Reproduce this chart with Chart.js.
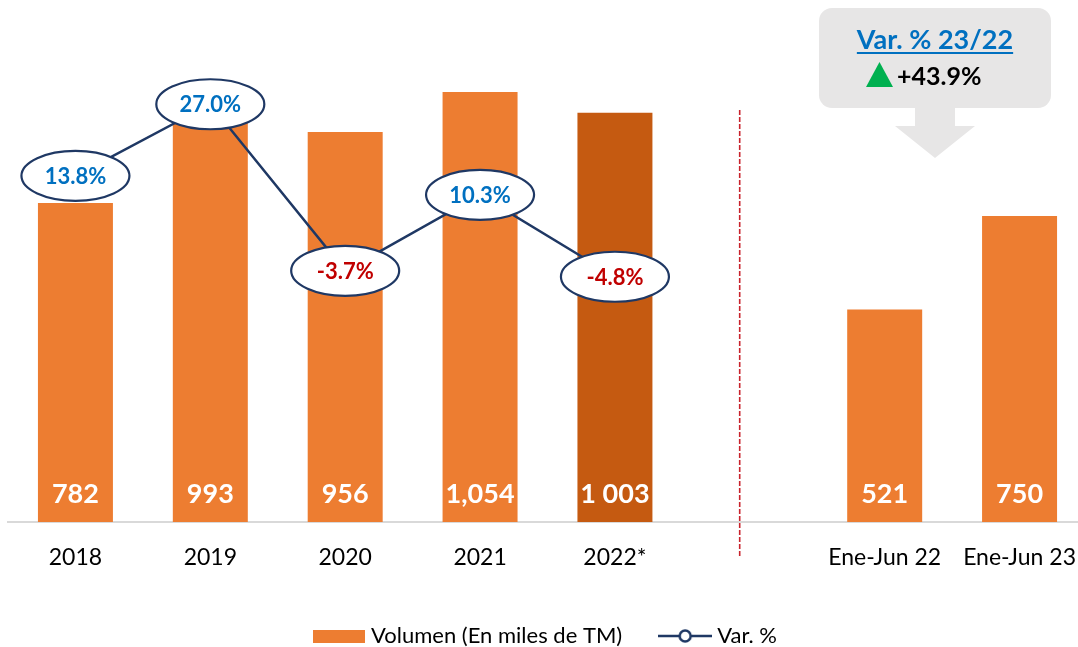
<!DOCTYPE html>
<html>
<head>
<meta charset="utf-8">
<script src="https://cdn.jsdelivr.net/npm/chart.js@4/dist/chart.umd.min.js"></script>
<style>
  html, body { margin: 0; padding: 0; background: #fff; overflow: hidden; }
  #wrap { width: 1088px; height: 647px; }
</style>
</head>
<body>
<div id="wrap"><canvas id="c" width="1088" height="647"></canvas></div>
<script>
// ---- Data ----
const categories = ['2018', '2019', '2020', '2021', '2022*', '', 'Ene-Jun 22', 'Ene-Jun 23'];
const volume = [782, 993, 956, 1054, 1003, null, 521, 750];
const volumeLabels = ['782', '993', '956', '1,054', '1 003', '', '521', '750'];
const variation = [13.8, 27.0, -3.7, 10.3, -4.8, null, null, null];
const variationLabels = ['13.8%', '27.0%', '-3.7%', '10.3%', '-4.8%', '', '', ''];
const seriesNames = ['Volumen (En miles de TM)', 'Var. %'];
const calloutTitle = 'Var. % 23/22';
const calloutValue = '+43.9%';

// ---- Styles ----
const ORANGE = '#ED7D31';
const DARK_ORANGE = '#C55A11';
const NAVY = '#1F3864';
const BLUE = '#0070C0';
const RED = '#C00000';
const FONT = 'Lato, "Open Sans", sans-serif';

function legendBarIcon() {
  const c = document.createElement('canvas');
  c.width = 52; c.height = 13;
  const g = c.getContext('2d');
  g.fillStyle = ORANGE; g.fillRect(0, 0, 52, 13);
  return c;
}
function legendLineIcon() {
  const c = document.createElement('canvas');
  c.width = 54; c.height = 16;
  const g = c.getContext('2d');
  g.strokeStyle = NAVY; g.lineWidth = 2.5;
  g.beginPath(); g.moveTo(0, 8); g.lineTo(54, 8); g.stroke();
  g.fillStyle = '#fff';
  g.beginPath(); g.arc(27, 8, 5.5, 0, Math.PI * 2); g.fill(); g.stroke();
  return c;
}

const overlay = {
  id: 'overlay',
  beforeDatasetsDraw(chart) {
    const x = chart.scales.x;
    const step = x.getPixelForValue(1) - x.getPixelForValue(0);
    const px = x.getPixelForValue(5) - 0.075 * step;
    const ctx = chart.ctx;
    ctx.save();
    ctx.strokeStyle = '#C8232C';
    ctx.lineWidth = 1.6;
    ctx.setLineDash([5, 2]);
    ctx.beginPath(); ctx.moveTo(px, 110); ctx.lineTo(px, 556); ctx.stroke();
    ctx.restore();
  },
  afterDatasetsDraw(chart) {
    const ctx = chart.ctx;
    const y = chart.scales.y;
    const barMeta = chart.getDatasetMeta(0);
    const lineMeta = chart.getDatasetMeta(1);
    ctx.save();
    ctx.font = 'bold 27px ' + FONT;
    ctx.fillStyle = '#fff';
    ctx.textAlign = 'center';
    ctx.textBaseline = 'middle';
    barMeta.data.forEach((el, i) => {
      if (volume[i] == null) return;
      ctx.fillText(volumeLabels[i], el.x, y.getPixelForValue(0) - 28);
    });
    lineMeta.data.forEach((el, i) => {
      if (variation[i] == null) return;
      ctx.beginPath();
      ctx.ellipse(el.x, el.y, 54, 25, 0, 0, Math.PI * 2);
      ctx.fillStyle = '#fff';
      ctx.fill();
      ctx.lineWidth = 2.2;
      ctx.strokeStyle = NAVY;
      ctx.stroke();
      ctx.font = 'bold 22px ' + FONT;
      ctx.fillStyle = variation[i] < 0 ? RED : BLUE;
      ctx.fillText(variationLabels[i], el.x, el.y + 1);
    });
    ctx.restore();
  },
  afterDraw(chart) {
    const ctx = chart.ctx;
    ctx.save();
    ctx.fillStyle = '#E7E6E6';
    ctx.beginPath();
    ctx.roundRect(819, 8, 232, 100, 13);
    ctx.fill();
    ctx.beginPath();
    ctx.moveTo(915, 107); ctx.lineTo(955, 107); ctx.lineTo(955, 126);
    ctx.lineTo(975, 126); ctx.lineTo(935, 158); ctx.lineTo(895, 126);
    ctx.lineTo(915, 126); ctx.closePath();
    ctx.fill();
    ctx.font = 'bold 27px ' + FONT;
    ctx.fillStyle = BLUE;
    ctx.textAlign = 'center';
    ctx.textBaseline = 'alphabetic';
    ctx.fillText(calloutTitle, 935, 49);
    const w = ctx.measureText(calloutTitle).width;
    ctx.fillRect(935 - w / 2, 52, w, 2);
    ctx.font = 'bold 25px ' + FONT;
    ctx.fillStyle = '#000';
    ctx.textAlign = 'left';
    ctx.fillText(calloutValue, 897, 85);
    ctx.fillStyle = '#00B050';
    ctx.beginPath();
    ctx.moveTo(866, 87); ctx.lineTo(893, 87); ctx.lineTo(879.5, 62); ctx.closePath();
    ctx.fill();
    ctx.restore();
  }
};

new Chart(document.getElementById('c'), {
  data: {
    labels: categories,
    datasets: [
      {
        type: 'bar',
        label: seriesNames[0],
        data: volume,
        yAxisID: 'y',
        order: 2,
        backgroundColor: categories.map((c, i) => i === 4 ? DARK_ORANGE : ORANGE),
        borderWidth: 0,
        categoryPercentage: 0.556,
        barPercentage: 1
      },
      {
        type: 'line',
        label: seriesNames[1],
        data: variation,
        yAxisID: 'y1',
        order: 1,
        borderColor: NAVY,
        borderWidth: 2.5,
        pointRadius: 0,
        tension: 0,
        spanGaps: false
      }
    ]
  },
  options: {
    responsive: false,
    animation: false,
    devicePixelRatio: 1,
    layout: { padding: { top: 12, left: 8, right: 1, bottom: -10 } },
    plugins: {
      tooltip: { enabled: false },
      legend: {
        position: 'bottom',
        labels: {
          usePointStyle: true,
          pointStyleWidth: 42,
          boxHeight: 14,
          padding: 42,
          color: '#111',
          font: { family: FONT, size: 22 },
          generateLabels: () => [
            { text: seriesNames[0], pointStyle: legendBarIcon(), datasetIndex: 0, hidden: false, lineWidth: 0, fillStyle: ORANGE, strokeStyle: ORANGE },
            { text: seriesNames[1], pointStyle: legendLineIcon(), datasetIndex: 1, hidden: false, lineWidth: 0, fillStyle: NAVY, strokeStyle: NAVY }
          ]
        }
      }
    },
    scales: {
      x: {
        grid: { display: false, drawTicks: false },
        border: { display: true, color: '#D9D9D9', width: 2 },
        ticks: { color: '#000', font: { family: FONT, size: 23 }, padding: 22, maxRotation: 0, autoSkip: false },
        afterFit(s) { s.height = 61; s.paddingLeft = 0; s.paddingRight = 0; }
      },
      y: { display: false, min: 0, max: 1250 },
      y1: { display: false, min: -50, max: 44 }
    }
  },
  plugins: [overlay]
});
</script>
</body>
</html>
